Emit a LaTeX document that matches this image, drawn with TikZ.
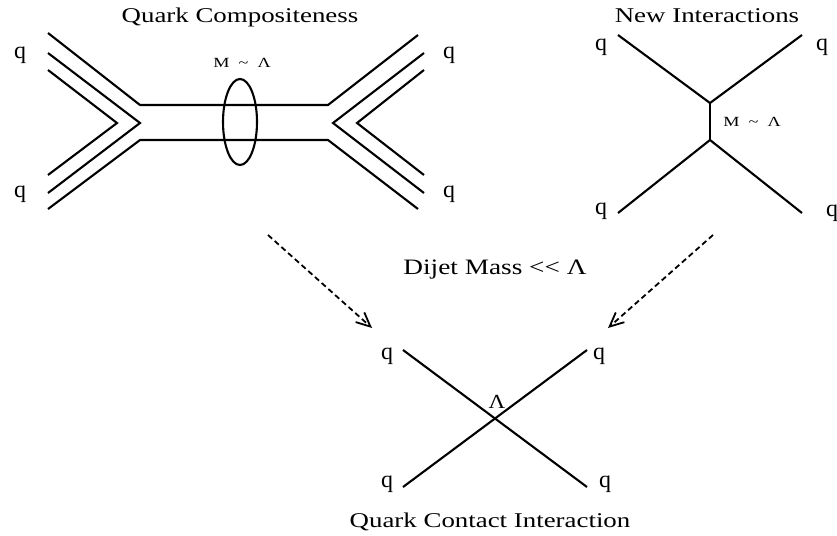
\documentclass[tikz,border=0pt]{standalone}
\usepackage{fontspec}
\setmainfont{Liberation Serif}
\usetikzlibrary{arrows.meta,shapes.geometric}
\newcommand{\mlam}{M\hspace{0.5em}\textasciitilde\hspace{0.5em}Λ}
\begin{document}
\begin{tikzpicture}[x=1pt,y=-1pt,
  line/.style={line width=2.1pt, line join=miter},
  title/.style={font=\fontsize{21}{24}\selectfont, xscale=1.28, inner sep=0pt},
  midlab/.style={font=\fontsize{22}{24}\selectfont, xscale=1.24, inner sep=0pt},
  qlab/.style={font=\fontsize{24}{26}\selectfont, inner sep=0pt},
  mlab/.style={font=\fontsize{14}{16}\selectfont, xscale=1.3, inner sep=0pt},
  dasharrow/.style={line width=1.8pt, dash pattern=on 5.5pt off 3.5pt, -{Straight Barb[length=14pt,width=13pt,line width=1.8pt]}}]
\useasboundingbox (0,0) rectangle (837,535);
\fill[white] (0,0) rectangle (837,535);

% ---------- Quark Compositeness ----------
\node[title] (t1) at (240,17) {Quark Compositeness};
\coordinate (a1) at (48,33);  \coordinate (a2) at (140,105);
\coordinate (a3) at (328,105); \coordinate (a4) at (418,35);
\coordinate (b1) at (48,209); \coordinate (b2) at (140,140);
\coordinate (b3) at (328,140); \coordinate (b4) at (418,209);
\coordinate (c1) at (48,53);  \coordinate (c2) at (140,123); \coordinate (c3) at (48,193);
\coordinate (d1) at (48,70);  \coordinate (d2) at (117,123); \coordinate (d3) at (48,175);
\coordinate (e1) at (424,53); \coordinate (e2) at (333,123); \coordinate (e3) at (424,193);
\coordinate (f1) at (424,70); \coordinate (f2) at (357,123); \coordinate (f3) at (424,175);
\draw[line] (a1) -- (a2) -- (a3) -- (a4);
\draw[line] (b1) -- (b2) -- (b3) -- (b4);
\draw[line] (c1) -- (c2) -- (c3);
\draw[line] (d1) -- (d2) -- (d3);
\draw[line] (e1) -- (e2) -- (e3);
\draw[line] (f1) -- (f2) -- (f3);
\node[draw, line width=2.1pt, ellipse, minimum width=34pt, minimum height=86pt, inner sep=0pt] (ell) at (240,122) {};
\node[mlab] (m1) at (242,63) {\mlam};
\node[qlab] (q1) at (20,55) {q};
\node[qlab] (q2) at (20,194) {q};
\node[qlab] (q3) at (449,55) {q};
\node[qlab] (q4) at (449,194) {q};

% ---------- New Interactions ----------
\node[title] (t2) at (707,16) {New Interactions};
\coordinate (n1) at (618,35);  \coordinate (n2) at (802,35);
\coordinate (v1) at (710,103); \coordinate (v2) at (710,140);
\coordinate (n3) at (618,213); \coordinate (n4) at (802,213);
\draw[line] (n1) -- (v1) -- (n2);
\draw[line] (v1) -- (v2);
\draw[line] (n3) -- (v2) -- (n4);
\node[mlab] (m2) at (752,122) {\mlam};
\node[qlab] (q5) at (601,47) {q};
\node[qlab] (q6) at (822,47) {q};
\node[qlab] (q7) at (601,211) {q};
\node[qlab] (q8) at (832,213) {q};

% ---------- Arrows ----------
\coordinate (s1) at (268,235); \coordinate (s2) at (372,328);
\coordinate (r1) at (713,235); \coordinate (r2) at (608,328);
\draw[dasharrow] (s1) -- (s2);
\draw[dasharrow] (r1) -- (r2);
\node[midlab] (dj) at (495,270) {Dijet Mass {<}{<} Λ};

% ---------- Quark Contact Interaction ----------
\coordinate (x1) at (403,350); \coordinate (x2) at (587,487);
\coordinate (x3) at (403,487); \coordinate (x4) at (587,350);
\draw[line] (x1) -- (x2);
\draw[line] (x3) -- (x4);
\node[font=\fontsize{20}{22}\selectfont, xscale=1.15, inner sep=0pt] (lam) at (497,402) {Λ};
\node[qlab] (q9) at (387,356) {q};
\node[qlab] (q10) at (599,356) {q};
\node[qlab] (q11) at (387,484) {q};
\node[qlab] (q12) at (605,484) {q};
\node[title] (t3) at (490,522) {Quark Contact Interaction};
\end{tikzpicture}
\end{document}
